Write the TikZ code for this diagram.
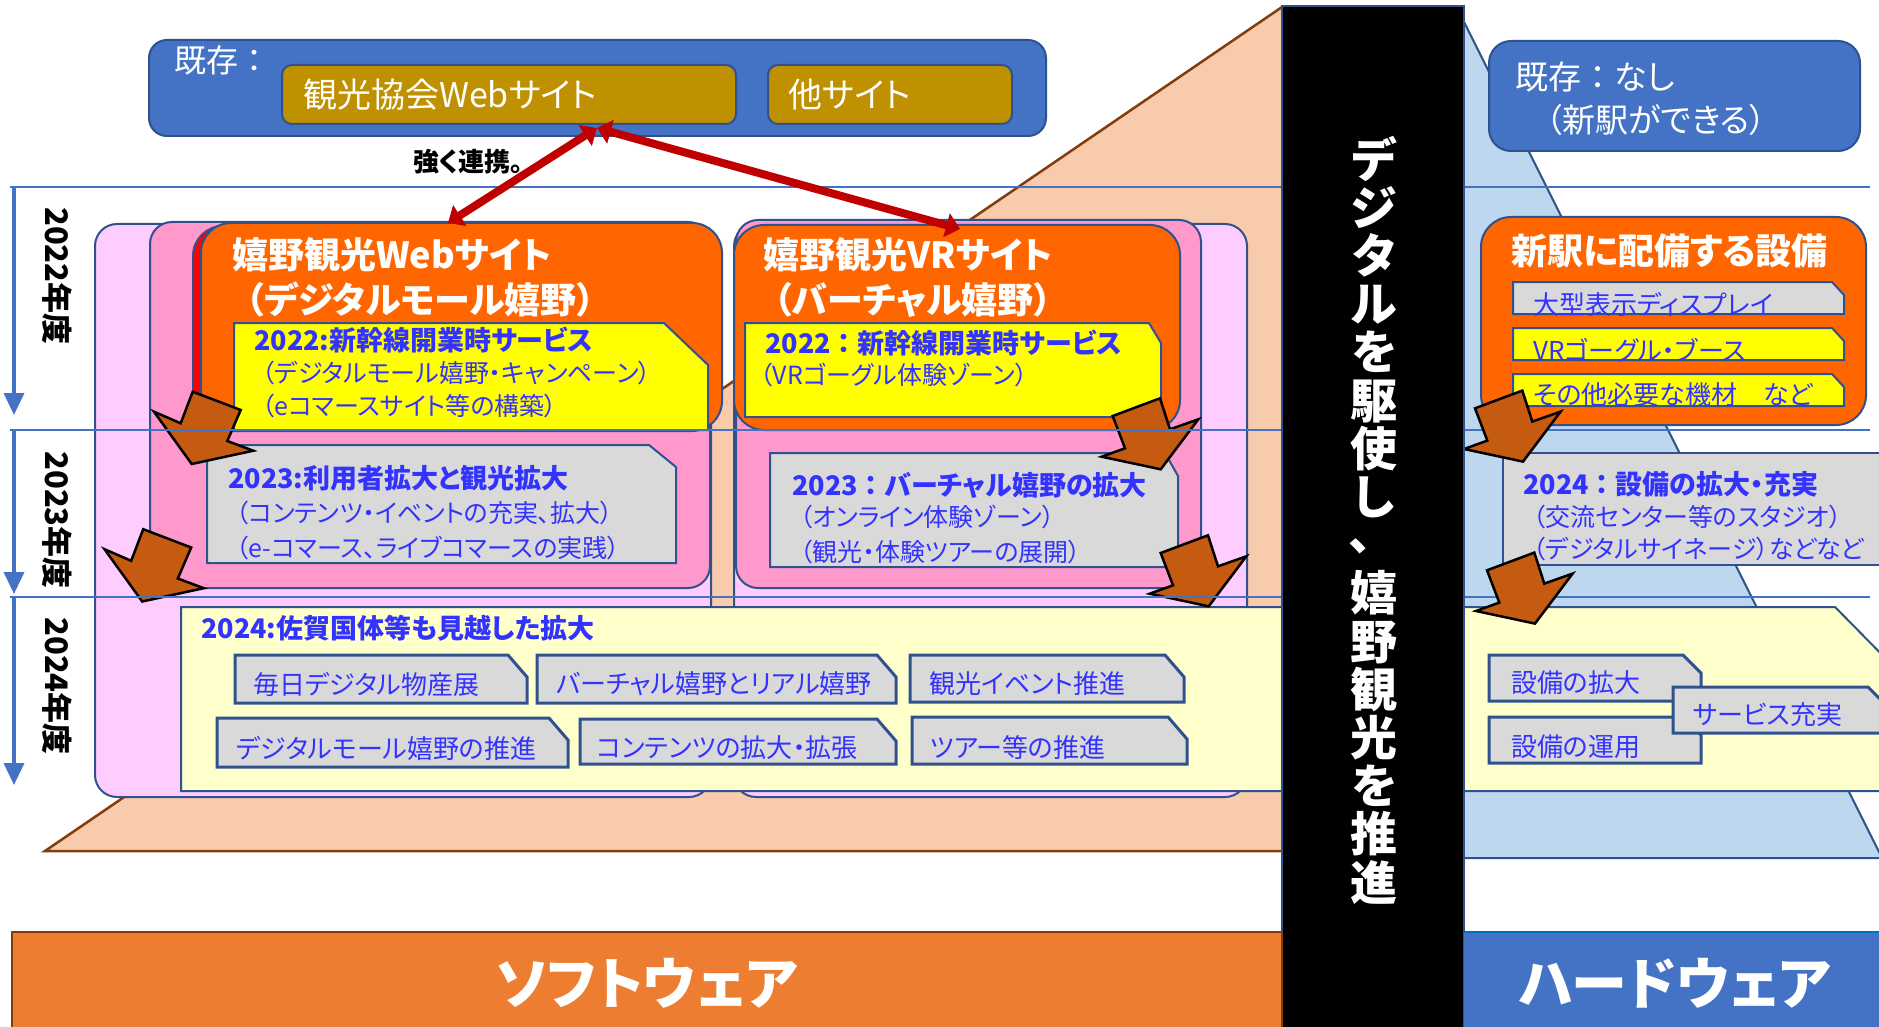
\documentclass[tikz,border=0pt]{standalone}
\usepackage{fontspec}
\setmainfont{Noto Sans CJK JP}[RawFeature=+palt]
\newfontfamily\nopalt{Noto Sans CJK JP}
\usetikzlibrary{arrows.meta}
\definecolor{bord}{HTML}{2F528F}
\definecolor{tblue}{HTML}{3333FF}
\definecolor{pinkL}{HTML}{FFCCFF}
\definecolor{pinkM}{HTML}{FF99CC}
\definecolor{orng}{HTML}{FF6600}
\definecolor{ylw}{HTML}{FFFF00}
\definecolor{gry}{HTML}{D9D9D9}
\definecolor{lylw}{HTML}{FFFFCC}
\definecolor{peach}{HTML}{F8CBAD}
\definecolor{brownl}{HTML}{843C0C}
\definecolor{lblue}{HTML}{BDD7EE}
\definecolor{mblue}{HTML}{4472C4}
\definecolor{gold}{HTML}{BF9000}
\definecolor{arrbr}{HTML}{C55A11}
\definecolor{sorange}{HTML}{ED7D31}
\definecolor{dred}{HTML}{C00000}
\newcommand\snipbx[7]{\draw[#1] (#2,#3) -- ({#4-#6},#3) -- (#4,{#3+#7}) -- (#4,#5) -- (#2,#5) -- cycle;}
\newcommand\rarrow[2]{\draw[barr, shift={(#1,#2)}] (0,0) -- (47.3,-17.7) -- (57.3,13.3) -- (85.6,3.3) -- (48,53.3) -- (-11,40.7) -- (12.3,32.3) -- cycle;}
\newcommand\larrow[2]{\draw[barr, shift={(#1,#2)}] (0,0) -- (48,18.3) -- (34.6,49.3) -- (60.6,59) -- (-1,72.3) -- (-38.7,20) -- (-12,31.6) -- cycle;}
\newcommand\fwc{{\nopalt ：}}
\begin{document}
\begin{tikzpicture}[x=1pt,y=-1pt,
  bl/.style={draw=bord, line width=2pt},
  bx/.style={bl, fill=#1},
  sb/.style={draw=bord, line width=3pt, fill=gry},
  txt/.style={inner sep=0pt, anchor=west},
  ttl/.style={txt, font=\bfseries\fontsize{36}{42}\selectfont, text=white},
  hd/.style={txt, font=\bfseries\fontsize{27}{32}\selectfont, text=tblue},
  sub/.style={txt, font=\fontsize{25}{30}\selectfont, text=tblue},
  itm/.style={txt, font=\fontsize{26}{30}\selectfont, text=tblue},
  wt/.style={txt, font=\fontsize{33}{40}\selectfont, text=white},
  barr/.style={draw=black, line width=2.5pt, fill=arrbr, line join=miter},
  sepl/.style={draw=mblue, line width=1.5pt},
  varr/.style={draw=mblue, line width=3.5pt, -{Triangle[length=22pt,width=20pt]}},
  rarr/.style={draw=dred, fill=dred, line width=8pt, {Triangle[length=14pt,width=24pt]}-{Triangle[length=14pt,width=24pt]}},
  yr/.style={rotate=-90, inner sep=0pt, font=\bfseries\fontsize{31}{36}\selectfont},
  big/.style={inner sep=0pt, text=white, font=\bfseries\fontsize{56}{66}\selectfont},
  vfont/.style={inner sep=0pt, text=white, font=\bfseries\fontsize{47}{48.2}\selectfont}
]
\useasboundingbox (0,0) rectangle (1879,1027);
\clip (0,0) rectangle (1879,1027);
\fill[white] (0,0) rectangle (1879,1027);

% pyramids
\draw[fill=peach, draw=brownl, line width=2.5pt] (45,851) -- (1282,7) -- (1300,7) -- (1300,851) -- cycle;
\draw[fill=lblue, draw=bord, line width=2pt] (1400,858) -- (1400,18) -- (1462,18) -- (1882,858) -- cycle;

% left column (Web)
\draw[bx=pinkL, rounded corners=22pt] (95,224) rectangle (711,797);
\draw[bx=pinkM, rounded corners=22pt] (150,222) rectangle (710,588);
\draw[draw=bord, line width=2pt, fill=red, rounded corners=30pt] (193,226) rectangle (716,429);
\draw[bx=orng, rounded corners=30pt] (201,223) rectangle (722,431);
\snipbx{bx=ylw}{234}{323}{708}{430}{44}{42}
\snipbx{bx=gry}{207}{445}{676}{563}{27}{22}
\node[ttl] (w1) at (232,255) {嬉野観光Webサイト};
\node[ttl] (w2) at (246,300) {（デジタルモール嬉野）};
\node[hd] (w3) at (254,340) {2022:新幹線開業時サービス};
\node[sub] (w4) at (262,373) {（デジタルモール嬉野・キャンペーン）};
\node[sub] (w5) at (262,406) {（eコマースサイト等の構築）};
\node[hd] (w6) at (228,478) {2023:利用者拡大と観光拡大};
\node[sub] (w7) at (236,513) {（コンテンツ・イベントの充実、拡大）};
\node[sub] (w8) at (236,548) {（e-コマース、ライブコマースの実践）};

% right column (VR)
\draw[bx=pinkL, rounded corners=22pt] (734,224) rectangle (1247,797);
\draw[bx=pinkM, rounded corners=22pt] (736,220) rectangle (1201,588);
\draw[bx=orng, rounded corners=30pt] (734,225) rectangle (1180,430);
\snipbx{bx=ylw}{745}{323}{1161}{417}{12}{20}
\snipbx{bx=gry}{770}{453}{1178}{567}{13}{23}
\node[ttl] (v1) at (763,255) {嬉野観光VRサイト};
\node[ttl] (v2) at (774,300) {（バーチャル嬉野）};
\node[hd] (v3) at (765,343) {2022\fwc 新幹線開業時サービス};
\node[sub] (v4) at (760,375) {（VRゴーグル体験ゾーン）};
\node[hd] (v5) at (792,485) {2023\fwc バーチャル嬉野の拡大};
\node[sub] (v6) at (800,517) {（オンライン体験ゾーン）};
\node[sub] (v7) at (800,552) {（観光・体験ツアーの展開）};

% hardware
\draw[bx=mblue, rounded corners=22pt] (1489,41) rectangle (1860,151);
\node[wt] (h1) at (1515,77) {既存\fwc なし};
\node[wt] (h2) at (1546,120) {（新駅ができる）};
\draw[bx=orng, rounded corners=30pt] (1481,217) rectangle (1866,425);
\node[ttl] (h3) at (1511,251) {新駅に配備する設備};
\snipbx{bx=gry}{1513}{282}{1844}{314}{12}{13}
\snipbx{bx=ylw}{1513}{328}{1844}{360}{12}{13}
\snipbx{bx=ylw}{1513}{374}{1844}{406}{12}{13}
\node[itm] (h4) at (1533,304) {大型表示ディスプレイ};
\node[itm] (h5) at (1533,350) {VRゴーグル・ブース};
\node[itm] (h6) at (1533,395) {その他必要な機材　など};
\draw[bx=gry] (1503,453) rectangle (1895,565);
\node[hd] (h7) at (1523,484) {2024\fwc 設備の拡大・充実};
\node[sub] (h8) at (1533,517) {（交流センター等のスタジオ）};
\node[sub] (h9) at (1533,549) {（デジタルサイネージ）などなど};

% 2024 band
\draw[bx=lylw] (181,607) -- (1835,607) -- (1900,673) -- (1900,791) -- (181,791) -- cycle;
\node[hd] (b0) at (201,628) {2024:佐賀国体等も見越した拡大};
\snipbx{sb}{235}{655}{527}{703}{19}{22}
\snipbx{sb}{537}{655}{896}{703}{19}{22}
\snipbx{sb}{910}{655}{1184}{702}{19}{22}
\snipbx{sb}{217}{718}{568}{767}{19}{22}
\snipbx{sb}{580}{719}{896}{764}{19}{22}
\snipbx{sb}{912}{717}{1187}{764}{19}{22}
\node[itm] (b1) at (253,684) {毎日デジタル物産展};
\node[itm] (b2) at (556,684) {バーチャル嬉野とリアル嬉野};
\node[itm] (b3) at (929,684) {観光イベント推進};
\node[itm] (b4) at (236,748) {デジタルモール嬉野の推進};
\node[itm] (b5) at (597,748) {コンテンツの拡大・拡張};
\node[itm] (b6) at (930,748) {ツアー等の推進};
\snipbx{sb}{1489}{655}{1701}{701}{18}{18}
\snipbx{sb}{1489}{717}{1701}{763}{18}{18}
\snipbx{sb}{1673}{687}{1890}{733}{22}{22}
\node[itm] (b7) at (1511,683) {設備の拡大};
\node[itm] (b8) at (1511,747) {設備の運用};
\node[itm] (b9) at (1693,715) {サービス充実};

% brown arrows
\larrow{192.7}{391.7}
\larrow{143.2}{529.2}
\rarrow{1112.7}{416}
\rarrow{1160.7}{553}

% separators and year arrows
\coordinate (s1a) at (10,187); \coordinate (s1b) at (1870,187);
\coordinate (s2a) at (10,430); \coordinate (s2b) at (1870,430);
\coordinate (s3a) at (10,597); \coordinate (s3b) at (1870,597);
\draw[sepl] (s1a) -- (s1b);
\draw[sepl] (s2a) -- (s2b);
\draw[sepl] (s3a) -- (s3b);
\coordinate (a1s) at (14,187); \coordinate (a1e) at (14,415);
\coordinate (a2s) at (14,430); \coordinate (a2e) at (14,594);
\coordinate (a3s) at (14,597); \coordinate (a3e) at (14,785);
\draw[varr] (a1s) -- (a1e);
\draw[varr] (a2s) -- (a2e);
\draw[varr] (a3s) -- (a3e);
\node[yr] (y1) at (57,276) {2022年度};
\node[yr] (y2) at (57,520) {2023年度};
\node[yr] (y3) at (57,686) {2024年度};

\rarrow{1475}{408.3}
\rarrow{1487}{570.3}

% black bar
\draw[fill=black, draw=bord, line width=1.5pt] (1282,6) rectangle (1464,1030);
\node[vfont, align=center] (vt) at (1374,520) {デ\\ジ\\タ\\ル\\を\\駆\\使\\し\\\hspace*{-28pt}\raisebox{12pt}{、}\\嬉\\野\\観\\光\\を\\推\\進};

% bottom bars
\draw[fill=sorange, draw=brownl, line width=1.5pt] (12,932) rectangle (1282,1032);
\draw[fill=mblue, draw=none] (1464,932) rectangle (1885,1032);
\draw[draw={rgb,255:red,0;green,112;blue,192}, line width=2pt] (1464,932) -- (1885,932);
\node[big] (soft) at (647,983) {ソフトウェア};
\node[big] (hard) at (1675,983) {ハードウェア};

% top existing box
\draw[bx=mblue, rounded corners=18pt] (149,40) rectangle (1046,136);
\node[txt, text=white, font=\fontsize{32}{38}\selectfont] (k0) at (174,60) {既存\fwc};
\draw[bx=gold, rounded corners=10pt] (282,65) rectangle (736,124);
\draw[bx=gold, rounded corners=10pt] (768,65) rectangle (1012,124);
\node[txt, text=white, font=\fontsize{34}{40}\selectfont] (k1) at (303,95) {観光協会Webサイト};
\node[txt, text=white, font=\fontsize{34}{40}\selectfont] (k2) at (788,95) {他サイト};
\node[txt, font=\bfseries\fontsize{26}{30}\selectfont] (rel) at (413,162) {強く連携。};

% red connectors
\coordinate (jn) at (597,128);
\coordinate (tw) at (448,223);
\coordinate (tv) at (960,229);
\draw[rarr] (jn) -- (tw);
\draw[rarr] (jn) -- (tv);
\end{tikzpicture}
\end{document}
